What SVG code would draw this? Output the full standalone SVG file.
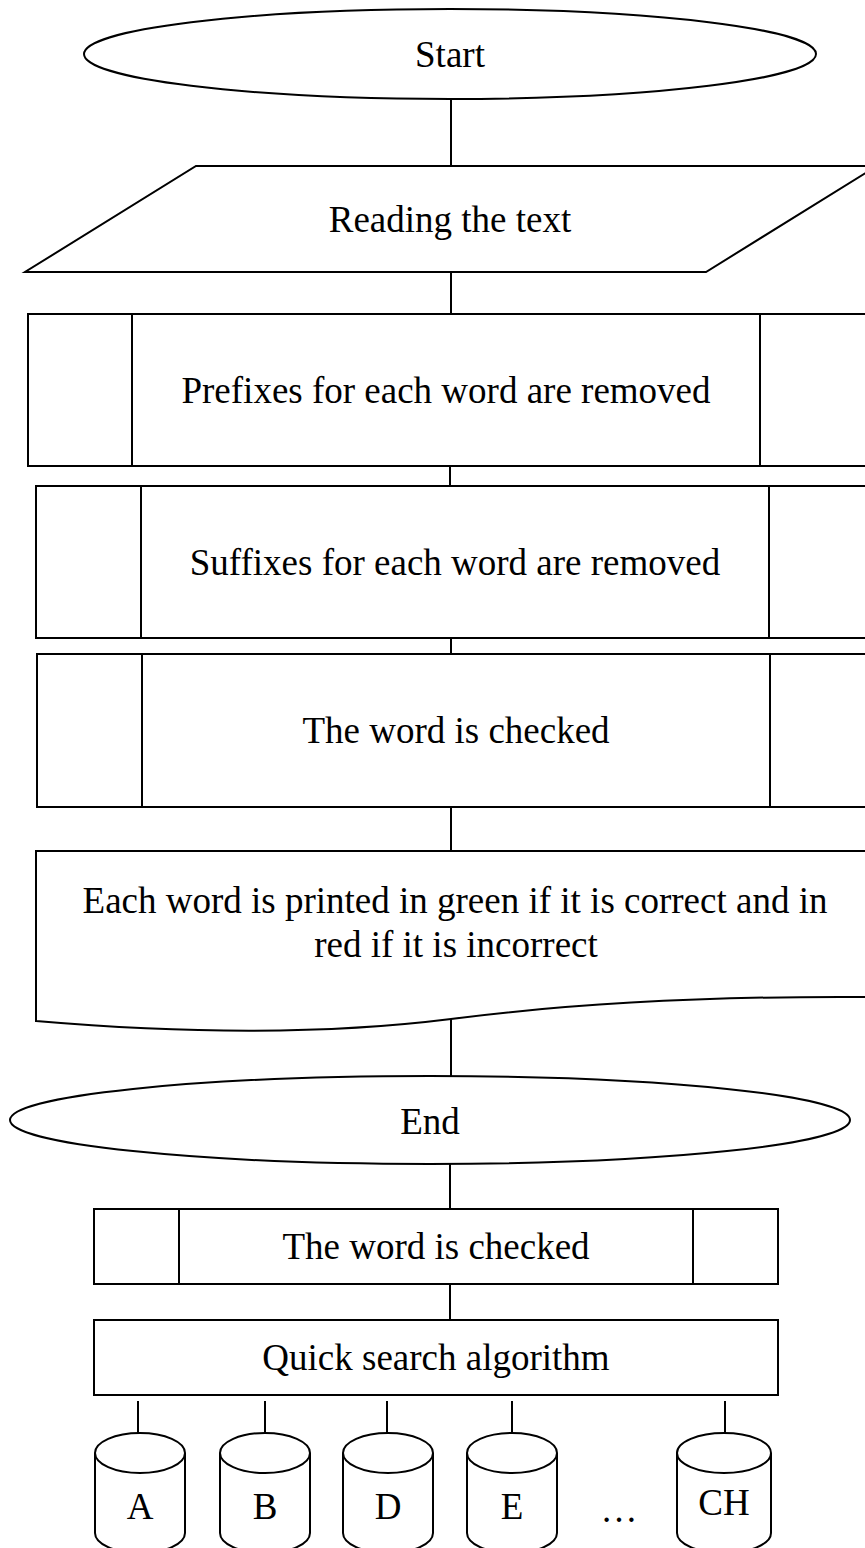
<svg xmlns="http://www.w3.org/2000/svg" width="865" height="1548" viewBox="0 0 865 1548">
<style>
.s{fill:#fff;stroke:#000;stroke-width:2}
.l{fill:none;stroke:#000;stroke-width:2}
.t{font-family:"Liberation Serif","Times New Roman",serif;font-size:37px;fill:#000;text-anchor:middle}
</style>
<rect width="865" height="1548" fill="#fff"/>
<g id="connectors">
<line class="l" x1="451" y1="99" x2="451" y2="166"/>
<line class="l" x1="451" y1="272" x2="451" y2="314"/>
<line class="l" x1="450" y1="466" x2="450" y2="486"/>
<line class="l" x1="451" y1="638" x2="451" y2="654"/>
<line class="l" x1="451" y1="807" x2="451" y2="851"/>
<line class="l" x1="451" y1="1019" x2="451" y2="1077"/>
<line class="l" x1="450" y1="1164" x2="450" y2="1209"/>
<line class="l" x1="450" y1="1284" x2="450" y2="1320"/>
<line class="l" x1="138" y1="1401" x2="138" y2="1433"/>
<line class="l" x1="265" y1="1401" x2="265" y2="1433"/>
<line class="l" x1="387" y1="1401" x2="387" y2="1433"/>
<line class="l" x1="512" y1="1401" x2="512" y2="1433"/>
<line class="l" x1="725" y1="1401" x2="725" y2="1433"/>
</g>
<g id="start">
<ellipse class="s" cx="450" cy="54" rx="366" ry="45"/>
<text class="t" x="450" y="67">Start</text>
</g>
<g id="read">
<polygon class="s" points="196,166 877,166 706,272 25,272"/>
<text class="t" x="450" y="232">Reading the text</text>
</g>
<g id="prefixes">
<rect class="s" x="28" y="314" width="838" height="152"/>
<line class="l" x1="132" y1="314" x2="132" y2="466"/>
<line class="l" x1="760" y1="314" x2="760" y2="466"/>
<text class="t" x="446" y="403">Prefixes for each word are removed</text>
</g>
<g id="suffixes">
<rect class="s" x="36" y="486" width="830" height="152"/>
<line class="l" x1="141" y1="486" x2="141" y2="638"/>
<line class="l" x1="769" y1="486" x2="769" y2="638"/>
<text class="t" x="455" y="575">Suffixes for each word are removed</text>
</g>
<g id="check1">
<rect class="s" x="37" y="654" width="829" height="153"/>
<line class="l" x1="142" y1="654" x2="142" y2="807"/>
<line class="l" x1="770" y1="654" x2="770" y2="807"/>
<text class="t" x="456" y="743">The word is checked</text>
</g>
<g id="print">
<path class="s" d="M36,851 H866 V997 C700,996 560,1005 451,1019 C340,1033 200,1035 36,1021 Z"/>
<text class="t" x="455" y="913">Each word is printed in green if it is correct and in</text>
<text class="t" x="456" y="957">red if it is incorrect</text>
</g>
<g id="end">
<ellipse class="s" cx="430" cy="1120" rx="420" ry="44"/>
<text class="t" x="430" y="1134">End</text>
</g>
<g id="check2">
<rect class="s" x="94" y="1209" width="684" height="75"/>
<line class="l" x1="179" y1="1209" x2="179" y2="1284"/>
<line class="l" x1="693" y1="1209" x2="693" y2="1284"/>
<text class="t" x="436" y="1259">The word is checked</text>
</g>
<g id="quick">
<rect class="s" x="94" y="1320" width="684" height="75"/>
<text class="t" x="436" y="1370">Quick search algorithm</text>
</g>
<g id="dbA">
<path class="s" d="M95,1453 V1533 A45,20 0 0 0 185,1533 V1453"/>
<ellipse class="s" cx="140" cy="1453" rx="45" ry="20"/>
<text class="t" x="140" y="1519">A</text>
</g>
<g id="dbB">
<path class="s" d="M220,1453 V1533 A45,20 0 0 0 310,1533 V1453"/>
<ellipse class="s" cx="265" cy="1453" rx="45" ry="20"/>
<text class="t" x="265" y="1519">B</text>
</g>
<g id="dbD">
<path class="s" d="M343,1453 V1533 A45,20 0 0 0 433,1533 V1453"/>
<ellipse class="s" cx="388" cy="1453" rx="45" ry="20"/>
<text class="t" x="388" y="1519">D</text>
</g>
<g id="dbE">
<path class="s" d="M467,1453 V1533 A45,20 0 0 0 557,1533 V1453"/>
<ellipse class="s" cx="512" cy="1453" rx="45" ry="20"/>
<text class="t" x="512" y="1519">E</text>
</g>
<g id="dots">
<text class="t" x="619" y="1522">…</text>
</g>
<g id="dbCH">
<path class="s" d="M677,1453 V1533 A47,20 0 0 0 771,1533 V1453"/>
<ellipse class="s" cx="724" cy="1453" rx="47" ry="20"/>
<text class="t" x="724" y="1515">CH</text>
</g>
</svg>
